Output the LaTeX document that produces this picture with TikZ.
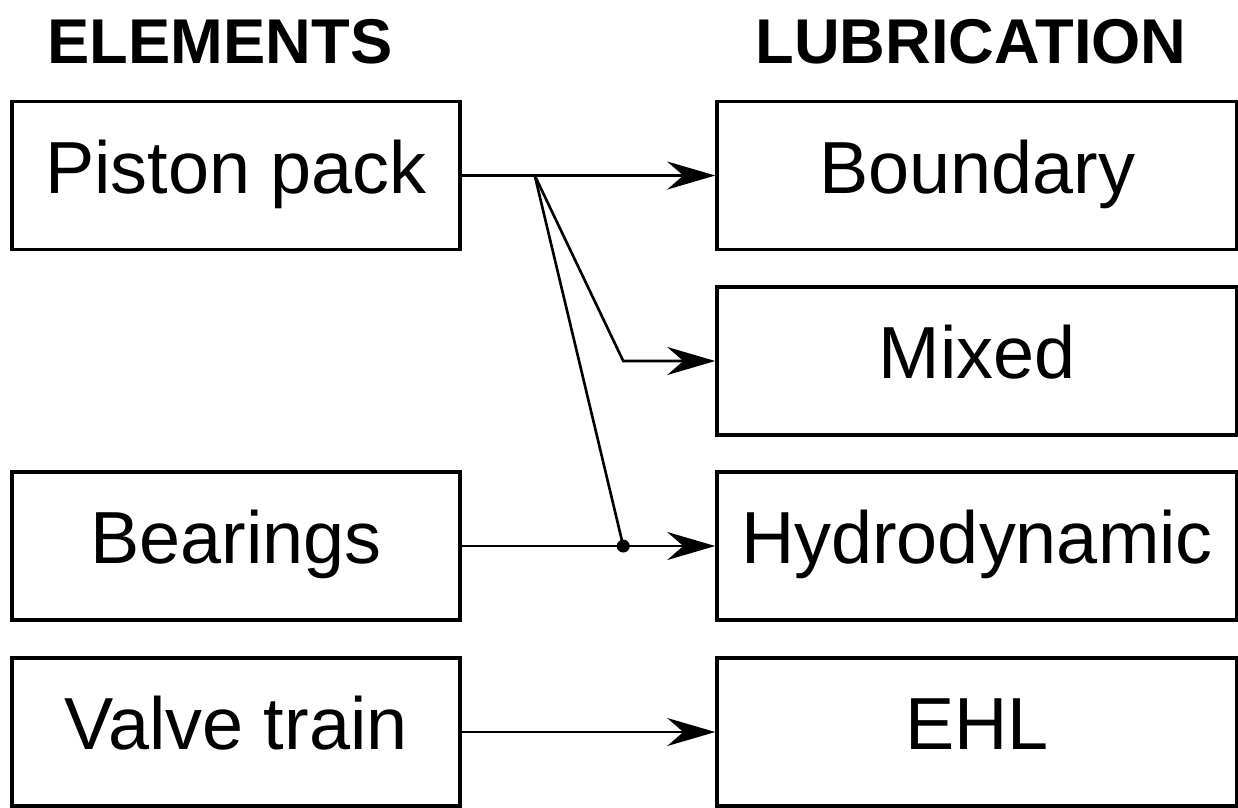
\documentclass[tikz,border=0pt]{standalone}
\usepackage{fontspec}
\setmainfont{Liberation Sans}
\usetikzlibrary{arrows.meta, positioning}

\begin{document}
\begin{tikzpicture}[
  elem/.style={draw, rectangle, line width=1.0pt, minimum width=4.48cm, minimum height=1.48cm, inner sep=0pt, text height=0.55cm, text depth=0.20cm, font=\fontsize{21}{25}\selectfont},
  lubr/.style={elem, minimum width=5.20cm},
  head/.style={font=\fontsize{18}{22}\selectfont\bfseries, inner sep=0pt},
  arrow/.style={-{Stealth[length=4.8mm, width=2.8mm, inset=1.6mm]}, line width=0.75pt}
]
\useasboundingbox (0,0) rectangle (12.38,-8.07);

\node[head] (elemhead) at (2.20,-0.42) {ELEMENTS};
\node[head] (lubrhead) at (9.71,-0.42) {LUBRICATION};

\node[elem] (piston)   at (2.36,-1.755) {Piston pack};
\node[elem] (bearings) at (2.36,-5.46)  {Bearings};
\node[elem] (valve)    at (2.36,-7.32)  {Valve train};

\node[lubr] (boundary) at (9.77,-1.755) {Boundary};
\node[lubr] (mixed)    at (9.77,-3.61)  {Mixed};
\node[lubr] (hydro)    at (9.77,-5.46)  {Hydrodynamic};
\node[lubr] (ehl)      at (9.77,-7.32)  {EHL};

\coordinate[right=0.73cm of piston.east] (split);
\coordinate[left=0.92cm of mixed.west]   (bend);
\coordinate[left=0.92cm of hydro.west]   (join);

\draw[arrow] (piston) -- (boundary);
\draw[arrow] (split) -- (bend) -- (mixed);
\draw[line width=0.75pt] (split) -- (join);
\draw[arrow] (bearings) -- (hydro);
\fill (join) circle (0.065);
\draw[arrow] (valve) -- (ehl);
\end{tikzpicture}
\end{document}
